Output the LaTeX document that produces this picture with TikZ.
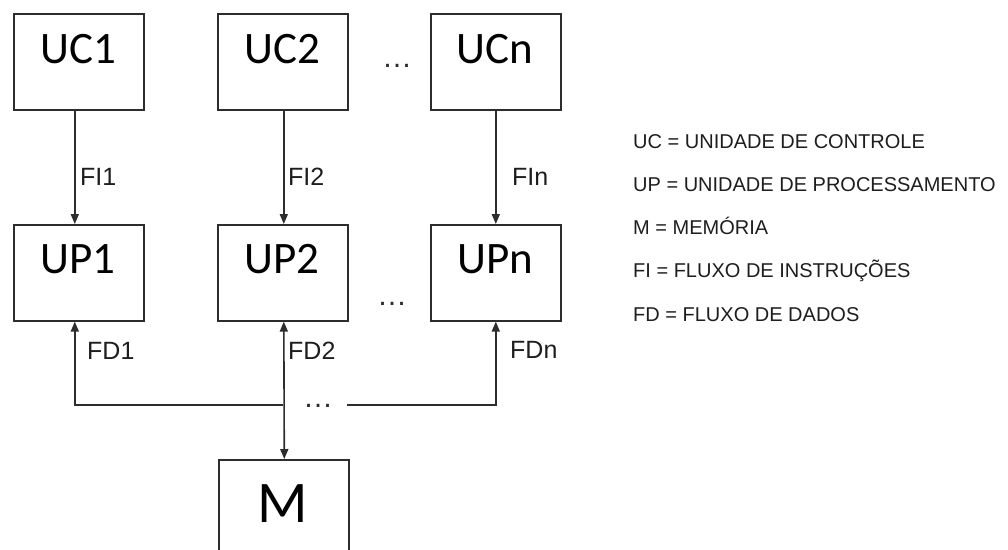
\documentclass[tikz,border=0pt]{standalone}
\usepackage{fontspec}
\setmainfont{Liberation Sans}
\newfontfamily\calib{Carlito}
\usetikzlibrary{arrows.meta}
\definecolor{linec}{RGB}{45,45,45}
\definecolor{legc}{RGB}{30,30,30}
\begin{document}
\begin{tikzpicture}[x=1pt,y=-1pt,
  box/.style={draw=linec, line width=1.6pt, minimum width=130pt, minimum height=96pt, inner sep=0pt, anchor=north west},
  big/.style={font=\calib\fontsize{45}{54}\selectfont, anchor=base, inner sep=0pt},
  lab/.style={font=\fontsize{25}{30}\selectfont, anchor=base west, inner sep=0pt, text=legc},
  leg/.style={font=\fontsize{20}{24}\selectfont, anchor=base west, inner sep=0pt, text=legc},
  dotsn/.style={font=\fontsize{30}{36}\selectfont, anchor=center, inner sep=0pt, text=linec},
  conn/.style={draw=linec, line width=1.6pt},
  tip/.tip={Triangle[length=10pt,width=8pt]},
  arr/.style={-tip}]
\useasboundingbox (0,0) rectangle (1008,549);
\fill[white] (0,0) rectangle (1008,549);
\clip (0,0) rectangle (1008,549);

% boxes
\node[box] (uc1) at (13,13) {};
\node[box] (uc2) at (217,13) {};
\node[box] (ucn) at (430,13) {};
\node[box] (up1) at (13,224) {};
\node[box] (up2) at (217,224) {};
\node[box] (upn) at (430,224) {};
\node[box, minimum height=130pt] (m) at (218,459) {};

% box texts
\node[big] (tuc1) at (78,63) {UC1};
\node[big] (tuc2) at (282,63) {UC2};
\node[big] (tucn) at (495,63) {UCn};
\node[big] (tup1) at (78,273) {UP1};
\node[big] (tup2) at (282,273) {UP2};
\node[big] (tupn) at (495,273) {UPn};
\node[big, font=\calib\fontsize{59}{66}\selectfont] (tm) at (282.5,522) {M};

% dots
\node[dotsn] (d1) at (397,66) {…};
\node[dotsn] (d2) at (392,304) {…};
\node[dotsn] (d3) at (318,406) {…};

% instruction flows
\draw[conn,arr] ([xshift=-4pt]uc1.south) -- ([xshift=-4pt]up1.north);
\draw[conn,arr] ([xshift=1pt]uc2.south) -- ([xshift=1pt]up2.north);
\draw[conn,arr] (ucn.south) -- (upn.north);
\node[lab] (fi1) at (80,185) {FI1};
\node[lab] (fi2) at (288,185) {FI2};
\node[lab] (fin) at (512,185) {FIn};

% data flows
\coordinate (j) at (283,405);
\coordinate (br) at (347,405);
\draw[conn,tip-tip] ([xshift=1pt]up2.south) -- ([xshift=0.5pt]m.north);
\draw[conn,arr] (j) -| ([xshift=-4pt]up1.south);
\draw[conn,arr] (br) -| (upn.south);
\node[lab] (fd1) at (87,359) {FD1};
\node[lab] (fd2) at (288,359) {FD2};
\node[lab] (fdn) at (510,358) {FDn};

% legend
\node[leg] (l1) at (633,148) {UC = UNIDADE DE CONTROLE};
\node[leg] (l2) at (633,191) {UP = UNIDADE DE PROCESSAMENTO};
\node[leg] (l3) at (633,234) {M = MEMÓRIA};
\node[leg] (l4) at (633,277) {FI = FLUXO DE INSTRUÇÕES};
\node[leg] (l5) at (633,321) {FD = FLUXO DE DADOS};
\end{tikzpicture}
\end{document}
